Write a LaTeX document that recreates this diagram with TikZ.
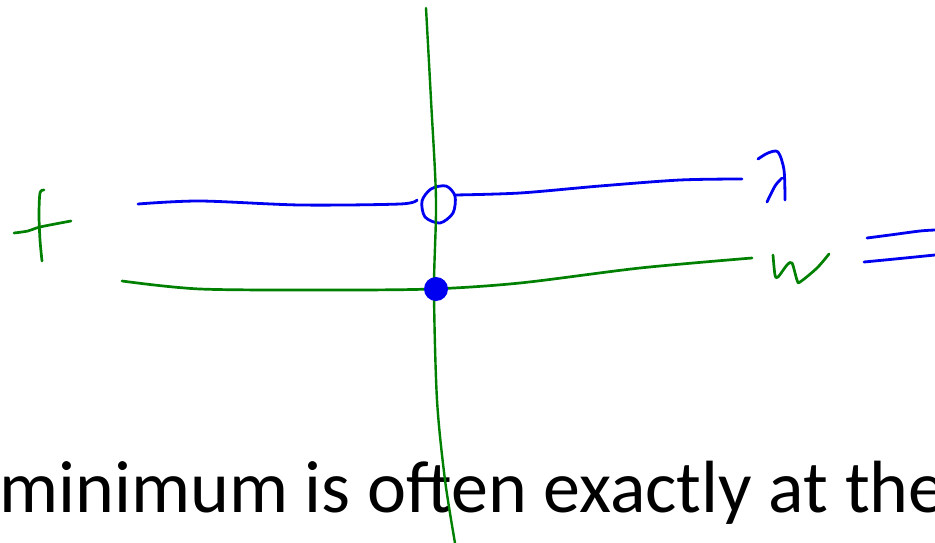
\documentclass[tikz,border=0pt]{standalone}
\usepackage{fontspec}
\setmainfont{Carlito}
\usetikzlibrary{positioning}
\definecolor{inkgreen}{RGB}{0,128,0}
\definecolor{inkblue}{RGB}{0,0,240}
\tikzset{
  greenink/.style={draw=inkgreen, line width=2.7pt, line cap=round, line join=round},
  blueink/.style={draw=inkblue, line width=2.8pt, line cap=round, line join=round},
  caption/.style={font=\fontsize{74}{80}\selectfont, inner sep=0pt, anchor=base west}
}
\begin{document}
\begin{tikzpicture}[x=1pt, y=-1pt]
  \useasboundingbox (0,0) rectangle (935,543);
  \begin{scope}
  \clip (0,0) rectangle (935,543);

  % Caption
  \node[caption] (cap) at (-1,512) {minimum is often exactly at the};

  % Plus sign
  \draw[greenink] plot[smooth] coordinates {(44,190) (40,193) (39,215) (40,240) (42,261)};
  \draw[greenink] plot[smooth] coordinates {(14,233) (28,231) (40,227) (71,221)};

  % Blue line with open circle
  \draw[blueink] plot[smooth] coordinates {(138,204) (200,201) (300,205) (400,204) (417,200)};
  \draw[blueink] plot[smooth cycle] coordinates {(431,189) (446,186) (455,196) (453,213) (440,223) (425,217) (422,201)};
  \draw[blueink] plot[smooth] coordinates {(455,195) (520,193) (600,186) (680,180) (742,179)};

  % Green line
  \draw[greenink] plot[smooth] coordinates {(122,281) (200,289) (330,290) (432,289) (520,283) (640,268) (752,258)};

  % Vertical green axis
  \draw[greenink, line width=2.4pt] plot[smooth] coordinates {(426,8) (431,100) (436,200) (434,290) (437,400) (445,480) (455,543)};

  % Closed dot
  \node[circle, fill=inkblue, minimum width=21pt, minimum height=24pt, inner sep=0pt] (dot) at (436,289) {};

  % lambda
  \draw[blueink] plot[smooth] coordinates {(758,159) (768,153) (778,152) (784,170) (785,200)};
  \draw[blueink] plot[smooth] coordinates {(767,202) (775,186) (782,178)};

  % w
  \draw[greenink] plot[smooth] coordinates {(773,255) (775,275) (778,277) (787,265) (792,263) (797,280) (800,282) (817,268) (829,254)};

  % equals
  \draw[blueink] plot[smooth] coordinates {(867,238) (890,235) (920,231) (935,230)};
  \draw[blueink] plot[smooth] coordinates {(864,262) (895,259) (935,255)};
  \end{scope}
\end{tikzpicture}
\end{document}
